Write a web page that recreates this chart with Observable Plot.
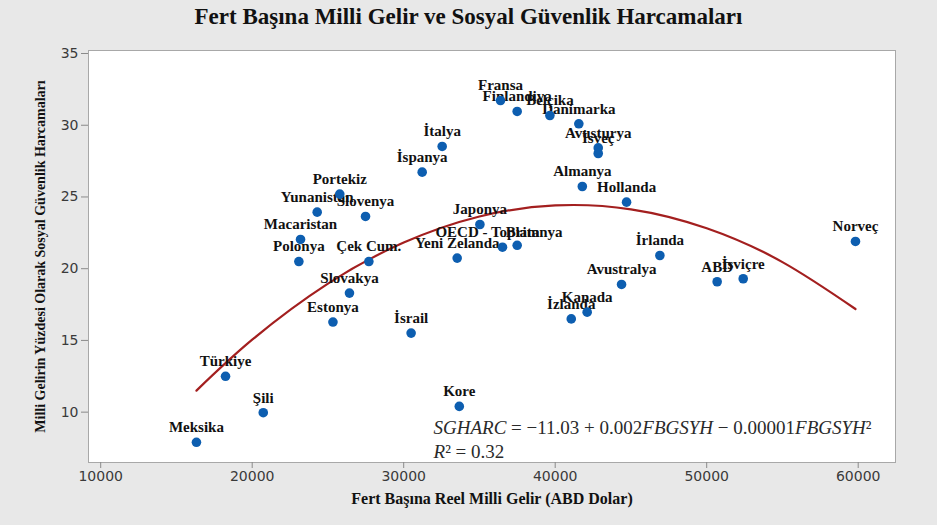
<!DOCTYPE html>
<html>
<head>
<meta charset="utf-8">
<script src="https://cdn.jsdelivr.net/npm/d3@7"></script>
<script src="https://cdn.jsdelivr.net/npm/@observablehq/plot@0.6"></script>
<style>
  html, body { margin: 0; padding: 0; background: #e8e8e8; width: 937px; height: 525px; overflow: hidden; }
  #title { height: 36px; line-height: 38px; text-align: center; font: bold 23px "Liberation Serif", serif; color: #111; position: relative; top: 4px; }
</style>
</head>
<body>
<div id="title">Fert Başına Milli Gelir ve Sosyal Güvenlik Harcamaları</div>
<div id="chart"></div>
<script>
const countries = ["Fransa","Finlandiya","Belçika","Danimarka","Avusturya","İsveç","Almanya","Hollanda","İtalya","İspanya","Portekiz","Yunanistan","Slovenya","Macaristan","Polonya","Çek Cum.","Japonya","OECD - Toplam","Britanya","Yeni Zelanda","Slovakya","Estonya","İsrail","Türkiye","Şili","Meksika","Kore","İrlanda","Avustralya","Kanada","İzlanda","ABD","İsviçre","Norveç"];
const gelir = [36390,37490,39650,41560,42840,42840,41790,44710,32540,31220,25780,24290,27480,23190,23080,27700,35030,36520,37490,33530,26420,25330,30490,18240,20730,16320,33670,46910,44380,42110,41060,50690,52410,59820];
const harcama = [31.72,30.96,30.68,30.10,28.42,28.03,25.73,24.64,28.52,26.73,25.20,23.94,23.64,22.04,20.50,20.50,23.08,21.50,21.63,20.74,18.30,16.28,15.51,12.50,9.96,7.90,10.40,20.92,18.90,16.97,16.50,19.09,19.30,21.90];

// fitted quadratic curve
const fitX = [16320,20000,25000,30000,35000,40000,45000,50000,55000,59820];
const fitY = [11.50,15.05,18.96,21.82,23.64,24.41,24.14,22.82,20.46,17.19];

const xTicks = [10000,20000,30000,40000,50000,60000];
const yTicks = [10,15,20,25,30,35];

const xTitle = "Fert Başına Reel Milli Gelir (ABD Dolar)";
const yTitle = "Milli Gelirin Yüzdesi Olarak Sosyal Güvenlik Harcamaları";
const eqLine1 = [["SGHARC", true], [" = −11.03 + 0.002", false], ["FBGSYH", true], [" − 0.00001", false], ["FBGSYH", true], ["²", false]];
const eqLine2 = [["R", true], ["² = 0.32", false]];

const points = countries.map((c, i) => ({name: c, x: gelir[i], y: harcama[i]}));
const curve = fitX.map((x, i) => ({x, y: fitY[i]}));
const shifted = {"OECD - Toplam": -15, "Britanya": 17};

const labelFont = {fontFamily: "Liberation Serif", fontWeight: "bold", fontSize: 15, fill: "#111", dy: -15};

const plot = Plot.plot({
  width: 937,
  height: 489,
  marginTop: 14,
  marginBottom: 63,
  marginLeft: 88,
  marginRight: 42,
  style: {background: "transparent", fontFamily: "DejaVu Sans", fontSize: "14px", color: "#3a3a3a", overflow: "visible"},
  x: {domain: [9195, 62462]},
  y: {domain: [6.49, 35.21]},
  marks: [
    Plot.frame({fill: "white", stroke: "#a8a8a8"}),
    Plot.axisX({ticks: xTicks, tickFormat: "d", tickSize: 6, tickPadding: 3, label: null, stroke: "#8a8a8a", fill: "#3a3a3a"}),
    Plot.axisY({ticks: yTicks, tickSize: 7, tickPadding: 3, label: null, stroke: "#8a8a8a", fill: "#3a3a3a"}),
    Plot.line(curve, {x: "x", y: "y", stroke: "#a31f1f", strokeWidth: 2.2, curve: "natural"}),
    Plot.text(points.filter(d => !(d.name in shifted)), {x: "x", y: "y", text: "name", ...labelFont}),
    Plot.text(points.filter(d => d.name === "OECD - Toplam"), {x: "x", y: "y", text: "name", ...labelFont, dx: shifted["OECD - Toplam"]}),
    Plot.text(points.filter(d => d.name === "Britanya"), {x: "x", y: "y", text: "name", ...labelFont, dx: shifted["Britanya"], dy: -13}),
    Plot.dot(points, {x: "x", y: "y", r: 4.8, fill: "#0d5eb0", stroke: "none"}),
    Plot.text([eqLine1.map(d => d[0]).join("")], {x: 31970, y: 8.87, textAnchor: "start", fontFamily: "Liberation Serif", fontSize: 19, fill: "#2a2a2a"}),
    Plot.text([eqLine2.map(d => d[0]).join("")], {x: 31970, y: 7.26, textAnchor: "start", fontFamily: "Liberation Serif", fontSize: 19, fill: "#2a2a2a"}),
    Plot.text([xTitle], {frameAnchor: "bottom", dy: 41, fontFamily: "Liberation Serif", fontWeight: "bold", fontSize: 16, fill: "#111"}),
    Plot.text([yTitle], {frameAnchor: "left", textAnchor: "middle", dx: -48, rotate: -90, fontFamily: "Liberation Serif", fontWeight: "bold", fontSize: 14, fill: "#111"})
  ]
});

document.getElementById("chart").appendChild(plot);

// rich formatting of the equation (italic variables, upright numbers)
function styleEq(segments) {
  const full = segments.map(d => d[0]).join("");
  d3.select(plot).selectAll("text").filter(function() { return this.textContent === full; }).each(function() {
    const t = d3.select(this);
    t.text("");
    segments.forEach(([s, it]) => t.append("tspan").attr("font-style", it ? "italic" : "normal").text(s));
  });
}
styleEq(eqLine1);
styleEq(eqLine2);
</script>
</body>
</html>
